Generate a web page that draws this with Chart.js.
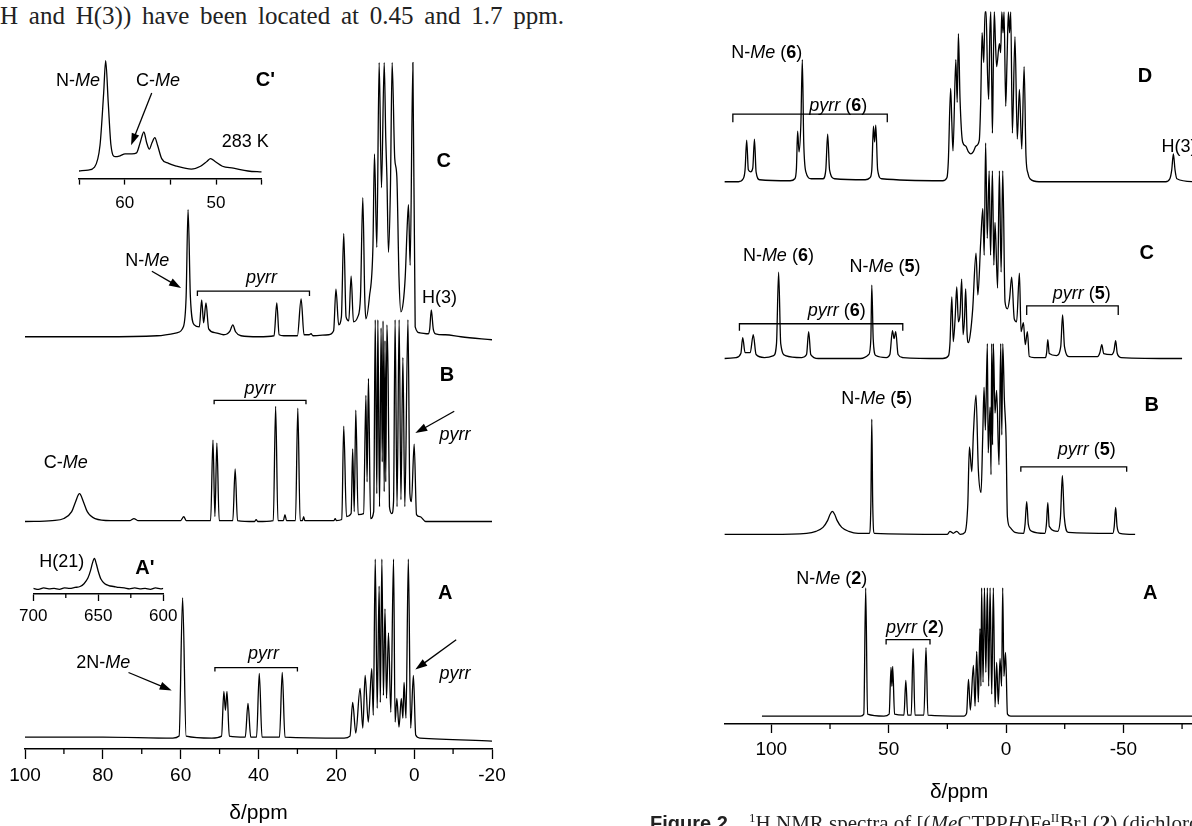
<!DOCTYPE html>
<html lang="en">
<head>
<meta charset="UTF-8">
<title>1H NMR spectra</title>
<script src="https://cdn.jsdelivr.net/npm/chart.js"></script>
<style>
    body {
        margin: 0;
        width: 1192px;
        height: 826px;
        overflow: hidden;
        position: relative;
        background: #fff;
    }
    canvas { position: absolute; }
    #topline {
        position: absolute;
        left: 0;
        top: 2px;
        width: 564px;
        line-height: 30px;
        font: 25px "Liberation Serif", "Times New Roman", serif;
        color: #222;
        text-align: justify;
        text-align-last: justify;
    }
    #caption {
        position: absolute;
        left: 650px;
        top: 810px;
        white-space: nowrap;
        font: 21px "Liberation Serif", "Times New Roman", serif;
        color: #222;
    }
    #caption .fig { font: bold 20px "Liberation Sans", Arial, sans-serif; }
</style>
</head>
<body>
<div id="topline">H and H(3)) have been located at 0.45 and 1.7 ppm.</div>

<canvas id="left" width="540" height="830" style="left:0;top:0"></canvas>
<canvas id="insetC" width="300" height="240" style="left:0;top:0"></canvas>
<canvas id="insetA" width="220" height="130" style="left:0;top:520px"></canvas>
<canvas id="right" width="700" height="830" style="left:600px;top:0"></canvas>

<div id="caption"><span class="fig">Figure 2.</span>&nbsp;&nbsp; <sup style="font-size:13px">1</sup>H NMR spectra of [(<i>Me</i>CTPP<i>H</i>)Fe<sup style="font-size:13px">II</sup>Br] (<b>2</b>) (dichloro</div>

<script>
// ---- spectra: [ppm, intensity] ----
const leftA = [[100,1],[80,1],[62,0],[60.4,2],[59.5,141],[58.6,2],[52,0],
    [49.5,2],[48.9,47],[48.5,28],[48.1,47],[47.5,2],
    [43.4,1],[42.7,35],[42.0,1],[40.5,1],[39.8,65],[39.1,1],[34.6,1],[33.9,66],[33.2,1],
    [18,0],[16.5,2],[15.8,36],[15.0,5],[13.9,50],[13.2,10],[12.6,63],[11.8,16],[10.9,70],[10.5,23],
    [10.0,180],[9.5,30],[9.0,153],[8.7,36],[8.3,180],[7.9,43],[7.5,130],[7.1,40],[6.6,106],[6.0,26],
    [5.3,180],[4.9,16],[4.45,40],[3.9,11],[3.3,40],[2.9,20],[2.6,56],[2.1,20],[1.5,180],[0.9,10],
    [0.2,63],[-0.4,3],[-1.5,0],[-20,-3]];

const leftB = [[100,0],[93,1],[90,3],[88,10],[87,20],[86,28],[85,20],[84,10],[82,3],[78,1],
    [73,1],[72,3],[71,1],[60,1],[59.2,5],[58.6,1],
    [52.3,1],[51.7,82],[51.2,5],[50.7,79],[50.1,1],[46.6,1],[46.0,53],[45.4,1],[41,0],[40.6,2],[40.2,0],
    [36.2,1],[35.6,116],[35.0,1],[33.6,1],[33.2,7],[32.8,1],[30.5,1],[29.9,114],[29.3,1],
    [28.7,1],[28.4,5],[28.1,1],[20.6,1],[20.3,3],[20.0,1],
    [18.6,2],[18.1,96],[17.4,5],[16.2,8],[15.8,73],[15.4,10],[15.0,112],[14.4,7],
    [13.0,8],[12.4,127],[12.1,40],[11.75,144],[11.2,3],
    [10.4,10],[10.0,203],[9.6,28],[9.33,203],[8.9,15],[8.5,195],[8.2,60],[8.0,202],[7.7,30],[7.5,182],
    [7.3,40],[7.0,198],[6.7,148],[6.35,15],[5.75,8],[5.3,20],[4.9,203],[4.4,15],[3.86,203],[3.4,22],
    [2.9,165],[2.4,15],[1.6,203],[1.1,28],[0.7,20],[0.0,78],[-0.6,7],[-1.5,5],[-3,0],[-20,0]];

const leftC = [[100,0],[80,0],[66,1],[61,4],[59.3,10],[58.6,40],[58.1,128],[57.5,40],[56.5,12],[55.2,10],
    [54.6,37],[54.1,14],[53.5,34],[52.8,8],[51,4],[49,2],[48,3],[47.3,6],[46.6,12],[45.9,5],[44.5,1],
    [40,0],[36,1],[35.3,34],[34.7,2],[33.5,1],[30,1],[29.05,38],[28.3,2],[27,2],[26.5,3],[26,1],
    [22,2],[20.7,6],[20.1,48],[19.4,12],[18.7,20],[18.1,104],[17.5,20],[16.8,16],[16.2,61],[15.6,15],
    [14.5,20],[13.8,40],[13.2,140],[12.7,40],[12.4,18],[11.5,40],[10.6,90],[10.2,184],[9.6,90],
    [9.0,276],[8.4,150],[7.7,276],[7.3,200],[7.0,160],[6.6,85],[6.1,150],[5.66,276],[5.0,180],
    [4.45,161],[3.9,60],[3.4,25],[2.8,35],[2.3,60],[1.8,110],[1.46,133],[1.03,72],[0.33,276],
    [-0.26,10],[-1.5,4],[-3.6,3],[-4.0,8],[-4.4,27],[-4.9,8],[-5.5,3],[-8,2],[-12,0],[-20,-3]];

const insetC = [[65,8],[64,9],[63.3,12],[62.7,35],[62.3,90],[62.08,124],[61.8,80],[61.5,35],[61.06,23],
    [60.5,24],[59.96,26],[59.2,26],[58.7,27],[58.3,38],[57.9,49],[57.6,38],[57.3,31],[57.0,38],
    [56.7,43],[56.4,35],[55.95,21],[55.2,16],[54.3,13],[52.7,10],[51.7,13],[51.0,18],[50.6,21],
    [50.1,18],[49.3,13],[48.1,11],[46.5,8],[45,7]];

const insetA = [[700,6],[696,5],[692,6.5],[688,5.5],[684,6],[680,5],[676,6.5],[672,6],[668,7],[664,8],
    [661,11],[658,17],[656,25],[654.5,33],[653,38],[651.5,32],[650,24],[648,16],[645,11],[642,9],
    [638,8],[634,7],[630,6.5],[626,5.5],[622,6.5],[618,5.5],[614,6],[610,5],[606,6.5],[602,5.5],[600,6]];

const rightA = [[104,0],[80,0],[62,0],[60.6,2],[59.8,129],[59.0,2],[52,0],
    [49.8,2],[49.0,49],[48.65,30],[48.3,50],[47.5,2],[43.5,1],[42.7,36],[41.9,1],
    [40.4,1],[39.6,68],[38.8,1],[35.0,1],[34.1,69],[33.3,1],
    [18,0],[16.8,3],[16.0,37],[15.2,6],[13.9,51],[13.2,10],[12.5,65],[11.8,14],[11.1,88],[10.7,30],
    [10.4,129],[9.8,34],[9.2,129],[8.6,44],[7.96,129],[7.4,30],[6.8,129],[6.1,22],[5.4,129],[4.7,9],
    [4.0,54],[3.3,12],[2.56,58],[1.9,30],[1.42,129],[0.9,40],[0.2,64],[-0.6,2],[-2,0],[-80,0]];

const rightB = [[120,0],[100,0],[85,1],[81,3],[78,7],[76,14],[75,20],[74,23],[73,20],[72,14],[70,7],
    [67,3],[63,1],[58.3,1],[57.6,30],[57.2,116],[56.8,30],[56.1,1],
    [25,0],[23.9,3],[22.5,1],[21.0,3],[19.5,0],
    [17.5,2],[16.3,30],[15.6,88],[14.6,63],[13.9,102],[12.8,140],[11.8,65],[10.65,42],[9.94,98],
    [9.37,148],[8.8,105],[7.96,192],[7.6,82],[6.8,128],[6.4,60],[6.1,192],[5.75,90],[5.4,192],
    [4.7,122],[4.0,145],[3.0,70],[2.27,192],[1.8,100],[1.4,192],[0.7,135],[0,98],[-0.57,18],
    [-1.7,7],[-3.8,2],[-7.5,1],[-8.1,10],[-8.8,33],[-9.5,10],[-11,3],[-16.5,1],[-17.2,10],[-17.8,32],
    [-18.4,8],[-22,3],[-23.2,18],[-24.0,59],[-24.8,18],[-26.5,2],[-45.5,1],[-46.1,8],[-46.7,27],
    [-47.3,8],[-48.5,1],[-55,0]];

const rightC = [[120,0],[115,1],[113,5],[112.2,21],[111.2,6],[109,6],[107.7,24],[106.5,4],[103,1],
    [99,3],[97.8,15],[96.9,87],[96,15],[94,3],[87,1],[85,4],[84.1,27],[83.2,4],[80,0],[62,0],
    [58.5,4],[57.6,20],[57.2,74],[56.6,20],[55.5,3],[51,1],[49.5,4],[48.4,28],[47.7,20],[47.0,27],
    [46,4],[44,1],[27,0],[24.5,3],[23.9,15],[23.1,62],[22.5,17],[21.7,40],[21.0,72],[20.3,37],
    [19.6,45],[18.9,80],[18.3,24],[17.7,40],[17.2,70],[16.6,25],[16.0,16],[15.2,25],[14.2,50],
    [12.8,106],[12.0,64],[10.8,117],[9.9,151],[9.3,104],[8.7,217],[8.0,121],[7.2,189],[6.6,104],
    [5.8,189],[5.2,94],[4.7,137],[3.6,71],[2.84,189],[2.1,87],[1.4,189],[0.43,57],[-0.6,50],
    [-1.5,60],[-2.4,82],[-3.5,40],[-4.5,37],[-5.7,86],[-6.4,27],[-7.4,36],[-8.2,14],[-9.1,27],
    [-9.9,2],[-12,1],[-16.8,1],[-17.3,6],[-17.8,19],[-18.4,5],[-21.5,3],[-23.3,12],[-24.1,44],
    [-24.9,12],[-27,2],[-39,2],[-40.0,6],[-40.8,14],[-41.6,5],[-45,4],[-46.0,8],[-46.7,18],
    [-47.4,5],[-49,1],[-75,0]];

const rightD = [[120,0],[114,0],[112,3],[111.2,12],[110.5,42],[109.8,12],[108.8,10],[107.9,14],
    [107.2,43],[106.5,10],[105,2],[92,1],[90,3],[89.3,14],[88.8,51],[88.2,30],[87.4,60],[86.8,123],
    [86.2,40],[85.3,10],[83,3],[78,3],[76.8,12],[76.0,48],[75.2,12],[73,3],[60,2],[58,4],[57.2,12],
    [56.5,56],[56.0,40],[55.5,57],[54.7,12],[53,3],[27,1],[25.2,4],[24.6,20],[23.6,94],[23.1,60],
    [22.6,31],[21.4,123],[20.8,80],[20.3,149],[19.6,83],[18.5,40],[17.2,36],[16,30],[15,28],[14,30],
    [12.8,36],[11.4,42],[10.8,80],[10.2,150],[9.5,120],[8.95,171],[8.5,171],[7.9,110],[7.4,83],
    [6.9,150],[6.5,171],[6.1,100],[5.8,49],[5.4,120],[5.0,171],[4.5,140],[4.0,116],[2.84,139],
    [2.3,130],[1.8,171],[1.3,150],[0.85,171],[0.14,76],[-0.4,120],[-1.0,171],[-1.5,150],[-2.0,171],
    [-2.7,49],[-3.8,146],[-4.8,43],[-5.7,93],[-6.7,33],[-7.7,116],[-8.5,26],[-9.4,8],[-10.2,3],
    [-14,0],[-68,0],[-69.8,3],[-70.6,12],[-71.3,28],[-72.0,12],[-72.8,3],[-80,0]];

// ---- axes ----
const leftMajor = [100, 80, 60, 40, 20, 0, -20];
const leftMinor = [90, 70, 50, 30, 10, -10];
const rightMajor = [100, 50, 0, -50];
const rightMinor = [75, 25, -25, -75];
const insetCTicks = [65, 60, 55, 50, 45];
const insetCLabels = [60, 50];
const insetAMajor = [700, 650, 600];
const insetAMinor = [675, 625];

// ---- annotations: [ppm, height, text, size, align] ----
const leftNotes = [
    [-7.6, 591, '<b>C</b>', 20], [68.6, 491, 'N-<i>Me</i>'], [39.2, 474, '<i>pyrr</i>'],
    [-6.5, 454, 'H(3)'], [-8.4, 376, '<b>B</b>', 20], [39.6, 362, '<i>pyrr</i>'],
    [-10.5, 316, '<i>pyrr</i>'], [89.5, 288, 'C-<i>Me</i>'], [-8.0, 157, '<b>A</b>', 20],
    [38.7, 96, '<i>pyrr</i>'], [-10.5, 76, '<i>pyrr</i>'], [79.9, 87, '2N-<i>Me</i>']
];
const leftBrackets = [[55.7, 26.9, 461, 5], [51.4, 27.8, 351, 4], [51.2, 30.0, 82, 4]];
const leftArrows = [[67.4, 481, 59.9, 464], [-10.3, 340, -0.3, 318], [-10.8, 110, -0.3, 80], [73.4, 77, 62.3, 59]];

const insetCNotes = [[65.1, 103, 'N-<i>Me</i>'], [56.35, 103, 'C-<i>Me</i>'], [44.6, 103, "<b>C'</b>", 20], [46.8, 38, '283 K']];
const insetCArrows = [[57.04, 90, 59.3, 35]];
const insetANotes = [[678.2, 34, 'H(21)'], [614.1, 27, "<b>A'</b>", 20]];

const rightNotes = [
    [102, 676, 'N-<i>Me</i> (<b>6</b>)'], [71.5, 622, '<i>pyrr</i> (<b>6</b>)'], [-59.2, 652, '<b>D</b>', 20],
    [-66.2, 581, 'H(3)', 18, 'left'],
    [97.0, 471, 'N-<i>Me</i> (<b>6</b>)'], [51.6, 460, 'N-<i>Me</i> (<b>5</b>)'],
    [72.1, 416, '<i>pyrr</i> (<b>6</b>)'], [-32.3, 433, '<i>pyrr</i> (<b>5</b>)'], [-59.9, 474, '<b>C</b>', 20],
    [55.1, 327, 'N-<i>Me</i> (<b>5</b>)'], [-34.4, 276, '<i>pyrr</i> (<b>5</b>)'], [-62.1, 321, '<b>B</b>', 20],
    [74.3, 146, 'N-<i>Me</i> (<b>2</b>)'], [38.8, 97, '<i>pyrr</i> (<b>2</b>)'], [-61.4, 131, '<b>A</b>', 20]
];
const rightBrackets = [[116.4, 50.6, 614, 8], [113.6, 44.0, 403, 7], [-8.8, -47.8, 421, 9], [-6.3, -51.4, 259, 5], [51.1, 32.4, 85, 5]];

const FONT = '"Liberation Sans", Arial, sans-serif';

function richText(ctx, text, px, py, size, align) {
    const parts = text.split(/(<[ib]>.*?<\/[ib]>)/).filter(s => s).map(s => {
        const m = s.match(/^<([ib])>(.*)<\/[ib]>$/);
        return m ? [m[2], m[1]] : [s, 'n'];
    });
    const fontOf = st => (st === 'i' ? 'italic ' : st === 'b' ? 'bold ' : '') + size + 'px ' + FONT;
    let w = 0;
    parts.forEach(([t, st]) => { ctx.font = fontOf(st); w += ctx.measureText(t).width; });
    let cx = align === 'left' ? px : px - w / 2;
    ctx.textAlign = 'left';
    ctx.textBaseline = 'middle';
    parts.forEach(([t, st]) => {
        ctx.font = fontOf(st);
        ctx.fillText(t, cx, py);
        cx += ctx.measureText(t).width;
    });
}

function drawArrow(ctx, x1, y1, x2, y2) {
    const a = Math.atan2(y2 - y1, x2 - x1), L = 12, W = 4;
    ctx.beginPath();
    ctx.moveTo(x1, y1);
    ctx.lineTo(x2 - (L - 2) * Math.cos(a), y2 - (L - 2) * Math.sin(a));
    ctx.stroke();
    ctx.beginPath();
    ctx.moveTo(x2, y2);
    ctx.lineTo(x2 - L * Math.cos(a) + W * Math.sin(a), y2 - L * Math.sin(a) - W * Math.cos(a));
    ctx.lineTo(x2 - L * Math.cos(a) - W * Math.sin(a), y2 - L * Math.sin(a) + W * Math.cos(a));
    ctx.closePath();
    ctx.fill();
}

// minor ticks, brackets, arrows and labels, placed through the chart's own scales
function notesPlugin(cfg) {
    return {
        id: 'notes',
        afterDraw(chart) {
            const ctx = chart.ctx, x = chart.scales.x, y = chart.scales.y;
            ctx.save();
            ctx.strokeStyle = '#000';
            ctx.fillStyle = '#000';
            ctx.lineWidth = 1.3;
            (cfg.minor || []).forEach(v => {
                const px = x.getPixelForValue(v);
                ctx.beginPath();
                ctx.moveTo(px, x.top);
                ctx.lineTo(px, x.top + cfg.minorLen);
                ctx.stroke();
            });
            (cfg.brackets || []).forEach(([a, b, h, d]) => {
                const xa = x.getPixelForValue(a), xb = x.getPixelForValue(b), py = y.getPixelForValue(h);
                ctx.beginPath();
                ctx.moveTo(xa, py + d); ctx.lineTo(xa, py); ctx.lineTo(xb, py); ctx.lineTo(xb, py + d);
                ctx.stroke();
            });
            (cfg.arrows || []).forEach(([a, h1, b, h2]) => {
                drawArrow(ctx, x.getPixelForValue(a), y.getPixelForValue(h1), x.getPixelForValue(b), y.getPixelForValue(h2));
            });
            (cfg.notes || []).forEach(([p, h, t, s, al]) => {
                richText(ctx, t, x.getPixelForValue(p), y.getPixelForValue(h), s || 18, al);
            });
            ctx.restore();
        }
    };
}

function makeChart(id, c) {
    return new Chart(document.getElementById(id), {
        type: 'line',
        data: {
            datasets: c.spectra.map(([pts, off]) => ({
                data: pts.map(([px, py]) => ({ x: px, y: py + off })),
                borderColor: '#000',
                borderWidth: 1.3,
                pointRadius: 0,
                fill: false,
                cubicInterpolationMode: 'monotone'
            }))
        },
        options: {
            responsive: false,
            animation: false,
            events: [],
            layout: { padding: c.padding },
            plugins: { legend: { display: false }, tooltip: { enabled: false } },
            scales: {
                x: {
                    type: 'linear',
                    reverse: true,
                    min: c.min,
                    max: c.max,
                    afterBuildTicks: s => { s.ticks = c.major.map(v => ({ value: v })); },
                    ticks: {
                        color: '#000',
                        autoSkip: false,
                        maxRotation: 0,
                        padding: c.tickPad,
                        font: { family: FONT, size: c.tickSize },
                        callback: v => (c.labelled ? (c.labelled.includes(v) ? String(v) : '') : String(v))
                    },
                    grid: { drawOnChartArea: false, tickLength: c.tickLen, tickColor: '#000', tickWidth: 1.3 },
                    border: { color: '#000', width: 1.5 },
                    title: c.title
                        ? { display: true, text: 'δ/ppm', color: '#000', font: { family: FONT, size: 21 }, padding: { top: c.titlePad, bottom: 0 } }
                        : { display: false }
                },
                y: { display: false, min: 0, max: c.ymax }
            }
        },
        plugins: [notesPlugin(c.extra)]
    });
}

makeChart('left', {
    spectra: [[leftA, 11], [leftB, 229], [leftC, 415]],
    min: -20, max: 100, major: leftMajor, ymax: 754,
    padding: { left: 25, right: 48, top: 0, bottom: 4 },
    tickLen: 10, tickPad: 5, tickSize: 19, title: true, titlePad: 9,
    extra: { minor: leftMinor, minorLen: 5, notes: leftNotes, brackets: leftBrackets, arrows: leftArrows }
});

makeChart('insetC', {
    spectra: [[insetC, 0]],
    min: 45, max: 65, major: insetCTicks, labelled: insetCLabels, ymax: 187.7,
    padding: { left: 79, right: 38.3, top: 0, bottom: 17 },
    tickLen: 6, tickPad: 9, tickSize: 17, title: false,
    extra: { notes: insetCNotes, arrows: insetCArrows }
});

makeChart('insetA', {
    spectra: [[insetA, 0]],
    min: 600, max: 700, major: insetAMajor, ymax: 79,
    padding: { left: 33.3, right: 56.7, top: 0, bottom: 18.6 },
    tickLen: 7, tickPad: 5, tickSize: 17, title: false,
    extra: { minor: insetAMinor, minorLen: 4, notes: insetANotes }
});

makeChart('right', {
    spectra: [[rightA, 8], [rightB, 191], [rightC, 368], [rightD, 546]],
    min: -80, max: 120, major: rightMajor, ymax: 729,
    padding: { left: 124.4, right: 106.2, top: 0, bottom: 25 },
    tickLen: 9, tickPad: 5, tickSize: 19, title: true, titlePad: 14,
    extra: { minor: rightMinor, minorLen: 5, notes: rightNotes, brackets: rightBrackets }
});
</script>
</body>
</html>
